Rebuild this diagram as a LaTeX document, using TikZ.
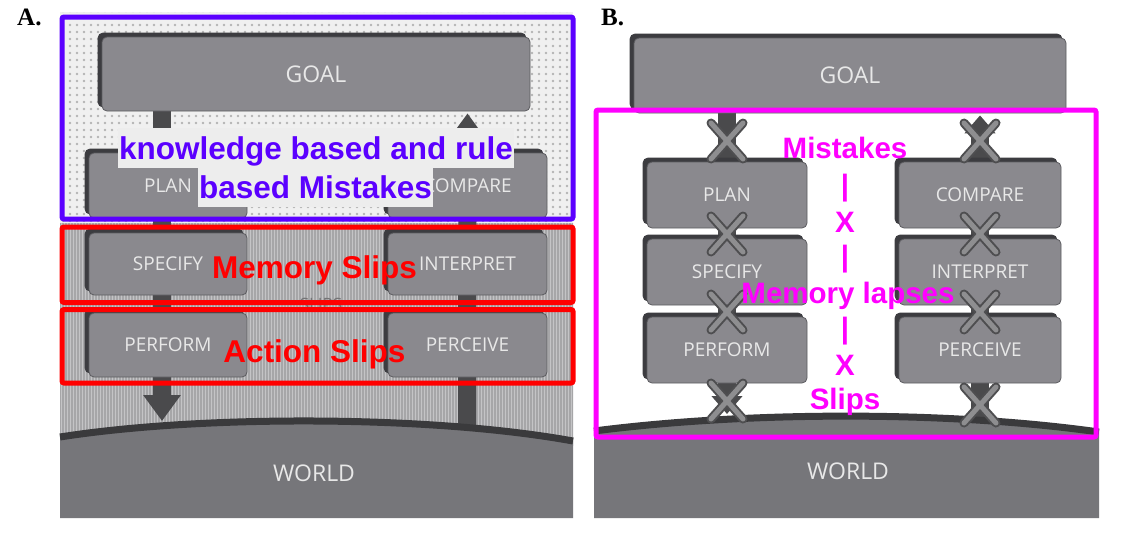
\documentclass[tikz,border=0pt]{standalone}
\usepackage{fontspec}
\setmainfont{Liberation Sans}
\newfontfamily\boxfont{Open Sans}
\newfontfamily\labfont{Liberation Serif}
\usetikzlibrary{shadows,patterns.meta,arrows.meta}
\definecolor{boxgray}{HTML}{8A898E}
\definecolor{boxedge}{HTML}{5C5C60}
\definecolor{shadowgray}{HTML}{3C3C40}
\definecolor{bargray}{HTML}{4A4A4C}
\definecolor{worldgray}{HTML}{76767A}
\definecolor{bandgray}{HTML}{3A3A3C}
\definecolor{boxtext}{HTML}{E8E8E8}
\definecolor{mistblue}{HTML}{5B00FF}
\definecolor{slipred}{HTML}{FF0000}
\definecolor{lapsemag}{HTML}{FF00FF}
\definecolor{dotbg}{HTML}{F0F0F0}
\definecolor{dotfg}{HTML}{B4B4B4}
\definecolor{stripebg}{HTML}{C4C4C6}
\definecolor{stripefg}{HTML}{A6A6A8}
\definecolor{textbg}{HTML}{EDEDED}
\definecolor{xedge}{HTML}{4E4E50}
\definecolor{xfill}{HTML}{8E8E90}
\pgfdeclarelayer{bg}
\pgfsetlayers{bg,main}
\tikzset{
  stagebox/.style={draw=boxedge, line width=0.8pt, fill=boxgray, rounded corners=5pt,
    text=boxtext, font=\boxfont\fontsize{19}{21}\selectfont,
    copy shadow={shadow xshift=-4pt, shadow yshift=4pt, fill=shadowgray, draw=shadowgray}},
  goalbox/.style={stagebox, font=\boxfont\fontsize{23}{25}\selectfont},
  worldlabel/.style={text=boxtext, font=\boxfont\fontsize{23}{25}\selectfont},
  bar/.style={draw=bargray, line width=18pt},
  bigtip/.style={-{Triangle[width=36pt,length=26pt]}},
  band/.style={draw=bandgray, line width=7pt},
  kbtext/.style={text=mistblue, fill=textbg, font=\bfseries\fontsize{31.5}{36}\selectfont,
    text height=29pt, text depth=7pt, inner ysep=2pt, inner xsep=1pt, anchor=base},
  sliptext/.style={text=slipred, font=\bfseries\fontsize{31.5}{36}\selectfont, anchor=base, inner sep=0pt},
  magtext/.style={text=lapsemag, font=\bfseries\fontsize{29.5}{34}\selectfont, inner sep=0pt},
  bluebox/.style={draw=mistblue, line width=5pt, rounded corners=2pt},
  redbox/.style={draw=slipred, line width=5pt, rounded corners=2pt},
  magbox/.style={draw=lapsemag, line width=5pt, rounded corners=2pt},
  panellabel/.style={font=\labfont\bfseries\fontsize{25}{28}\selectfont, anchor=base west, inner sep=0pt},
  xmark/.pic={
    \draw[line width=9pt, draw=xedge, line cap=round] (-16,-18) -- (16,18) (-16,18) -- (16,-18);
    \draw[line width=5pt, draw=xfill, line cap=round] (-16,-18) -- (16,18) (-16,18) -- (16,-18);
  }
}
\begin{document}
\begin{tikzpicture}[x=1pt,y=-1pt]
\useasboundingbox (0,0) rectangle (1129,536);

% ---------- Panel A nodes ----------
\node[panellabel] (labA) at (17,25) {A.};
\node[goalbox, minimum width=428pt, minimum height=74pt] (goalA) at (316,74) {GOAL};
\node[stagebox, minimum width=158pt, minimum height=65pt] (planA) at (168,185.5) {PLAN};
\node[stagebox, minimum width=159pt, minimum height=65pt] (compareA) at (467.5,185.5) {COMPARE};
\node[text=stripefg!70!black, font=\boxfont\fontsize{17}{19}\selectfont] (slipsA) at (321,304) {SLIPS};
\node[stagebox, minimum width=158pt, minimum height=62pt] (specA) at (168,264) {SPECIFY};
\node[stagebox, minimum width=159pt, minimum height=62pt] (interpA) at (467.5,264) {INTERPRET};
\node[stagebox, minimum width=158pt, minimum height=64pt] (perfA) at (168,345) {PERFORM};
\node[stagebox, minimum width=159pt, minimum height=64pt] (percA) at (467.5,345) {PERCEIVE};
\node[worldlabel] (worldA) at (314,473) {WORLD};
\coordinate (arrA) at (162,421);
\coordinate (baseA) at (467,440);

% ---------- Panel B nodes ----------
\node[panellabel] (labB) at (601,25) {B.};
\node[goalbox, minimum width=432pt, minimum height=75pt] (goalB) at (850,75.5) {GOAL};
\node[stagebox, minimum width=160pt, minimum height=66pt] (planB) at (727,195) {PLAN};
\node[stagebox, minimum width=162pt, minimum height=66pt] (compareB) at (980,195) {COMPARE};
\node[stagebox, minimum width=160pt, minimum height=66pt] (specB) at (727,272) {SPECIFY};
\node[stagebox, minimum width=162pt, minimum height=66pt] (interpB) at (980,272) {INTERPRET};
\node[stagebox, minimum width=160pt, minimum height=66pt] (perfB) at (727,350) {PERFORM};
\node[stagebox, minimum width=162pt, minimum height=66pt] (percB) at (980,350) {PERCEIVE};
\node[worldlabel] (worldB) at (848,471) {WORLD};
\coordinate (arrB) at (727,414);
\coordinate (baseB) at (980,430);

\begin{pgfonlayer}{bg}
  \fill[white] (0,0) rectangle (1129,536);
  % panel A background
  \fill[dotbg] (60,12) rectangle (573,223);
  \path[pattern={Dots[distance=7pt,radius=1.3pt]}, pattern color=dotfg] (60,12) rectangle (573,223);
  \fill[stripebg] (60,223) rectangle (573,445);
  \path[pattern={Lines[angle=90,distance=3pt,line width=1.1pt]}, pattern color=stripefg] (60,223) rectangle (573,445);
  % connectors A
  \draw[bar, bigtip] ([xshift=-6pt]goalA.south -| planA.center) -- (arrA);
  \draw[bar, bigtip] (baseA) -- ([yshift=-2pt]goalA.south -| compareA.center);
  % connectors B
  \draw[bar] (goalB.south -| planB.center) -- (perfB.south);
  \draw[bar, -{Triangle[width=30pt,length=18pt]}] (perfB.south) -- (arrB);
  \draw[bar, -{Triangle[width=30pt,length=18pt]}] (baseB) -- ([yshift=-2pt]goalB.south -| compareB.center);
  % world A
  \fill[worldgray] (60,437) .. controls (200,415) and (430,415) .. (573,441) -- (573,518) -- (60,518) -- cycle;
  \draw[band] (60,437) .. controls (200,415) and (430,415) .. (573,441);
  % world B
  \fill[worldgray] (594,431) .. controls (750,411) and (950,411) .. (1099,432) -- (1099,518) -- (594,518) -- cycle;
  \draw[band] (594,431) .. controls (750,411) and (950,411) .. (1099,432);
\end{pgfonlayer}

% ---------- X marks in B ----------
\pic at (727,141) {xmark};
\pic at (980,141) {xmark};
\pic at (727,234) {xmark};
\pic at (980,234) {xmark};
\pic at (727,312) {xmark};
\pic at (980,312) {xmark};
\pic at (727,401) {xmark};
\pic at (980,405) {xmark};

% ---------- overlays A ----------
\draw[bluebox] (62,17) rectangle (573,219);
\draw[redbox] (62,227) rectangle (573,302.5);
\draw[redbox] (62,309.5) rectangle (573,383);
\node[kbtext] (kb1) at (316,159) {knowledge based and rule};
\node[kbtext] (kb2) at (315.5,198) {based Mistakes};
\node[sliptext] (memslip) at (314.5,278) {Memory Slips};
\node[sliptext] (actslip) at (314.5,362) {Action Slips};

% ---------- overlays B ----------
\draw[magbox] (596,110) rectangle (1096,437);
\node[magtext, anchor=base] (mist) at (845,158) {Mistakes};
\node[magtext] (bar1) at (845,188) {|};
\node[magtext, anchor=base] (x1) at (845,232) {X};
\node[magtext] (bar2) at (845,259) {|};
\node[magtext, anchor=base] (memlapse) at (848,303) {Memory lapses};
\node[magtext] (bar3) at (845,331) {|};
\node[magtext, anchor=base] (x2) at (845,375) {X};
\node[magtext, anchor=base] (slipsB) at (845,409) {Slips};
\end{tikzpicture}
\end{document}
